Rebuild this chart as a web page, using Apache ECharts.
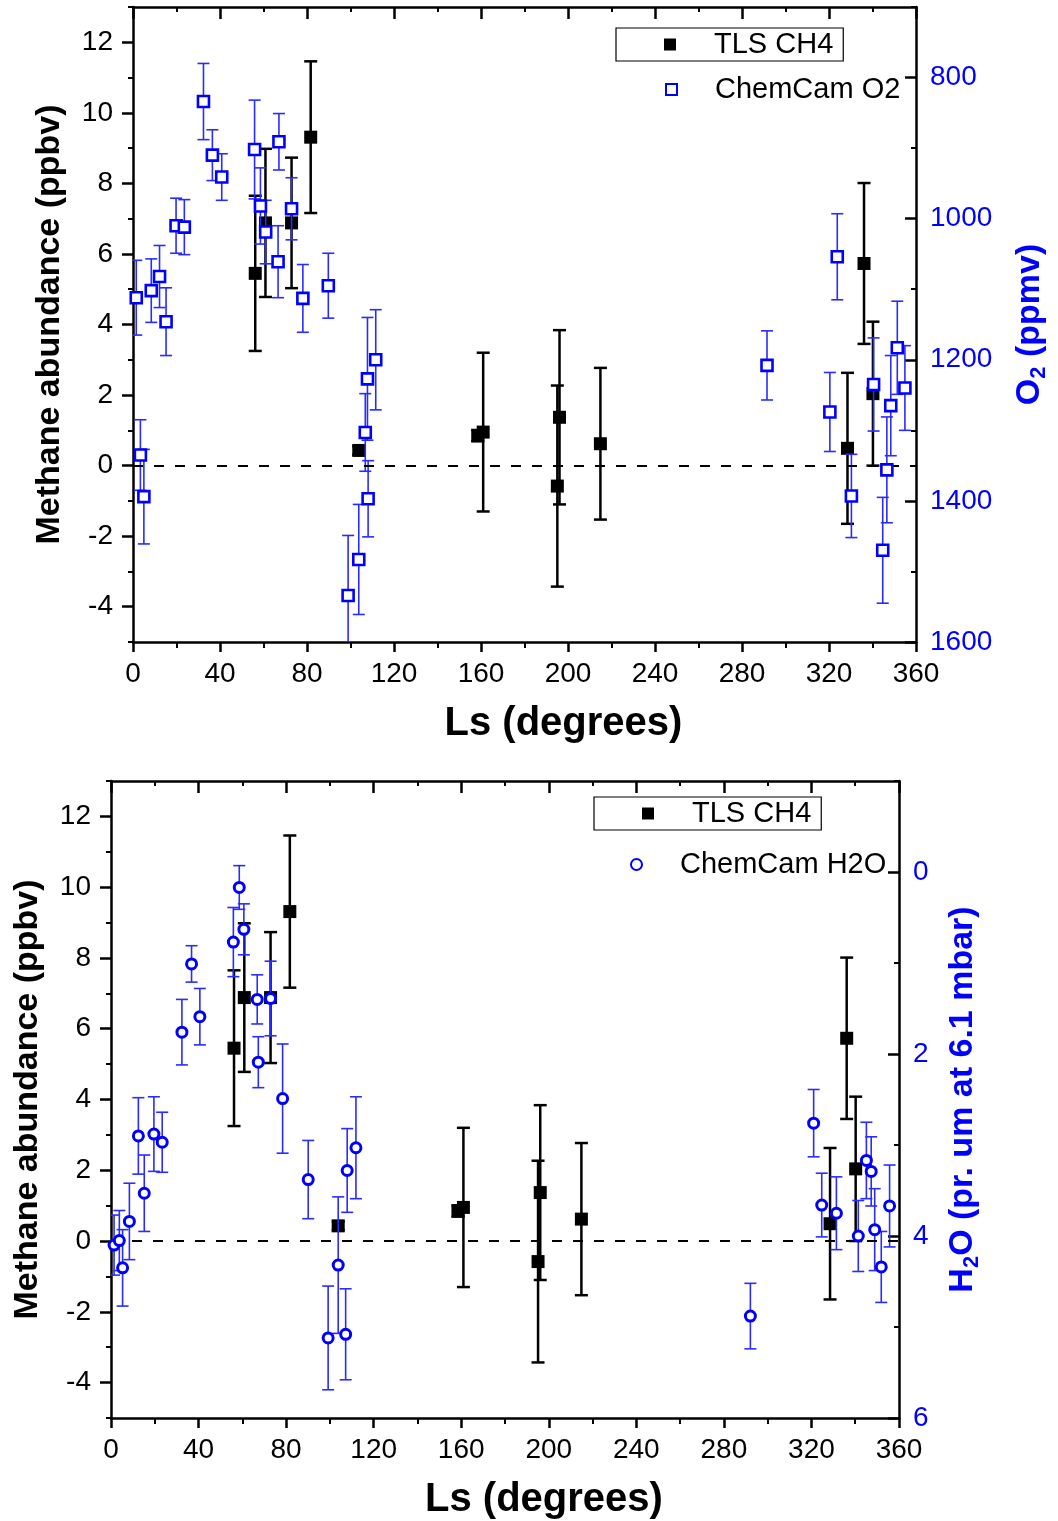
<!DOCTYPE html>
<html>
<head>
<meta charset="UTF-8">
<script type="text/javascript" src="https://cdn.jsdelivr.net/npm/echarts@6/dist/echarts.min.js"></script>
<title></title>
<style>
  html, body { margin: 0; padding: 0; background: #fff; }
</style>
</head>
<body>
<div id="main" style="width:1058px;height:1521px"></div>
<script type="text/javascript">
// TLS CH4 (both panels)
var tlsLs  = [56.2, 60.9, 72.9, 81.7, 103.8, 158.5, 161.0, 195.1, 196.1, 214.9, 328.5, 336.1, 340.2];
var tlsVal = [5.45, 6.88, 6.88, 9.31, 0.43, 0.85, 0.95, -0.58, 1.37, 0.62, 0.49, 5.73, 2.04];
var tlsErr = [2.2, 2.1, 1.85, 2.15, 0.12, 0.16, 2.25, 2.85, 2.47, 2.15, 2.14, 2.28, 2.04];

// ChemCam O2 (ppmv), top panel
var o2Ls  = [1.5, 3.4, 5.0, 8.4, 12.2, 15.2, 19.8, 23.6, 32.4, 36.5, 40.8, 55.9, 58.6, 61.0, 66.7, 67.1, 72.9, 78.1, 89.8,
             98.9, 103.8, 106.8, 107.8, 108.1, 111.6, 291.5, 320.4, 323.8, 330.3, 340.5, 344.7, 346.6, 348.4, 351.4, 354.9];
var o2Val = [1112, 1335, 1394, 1102, 1082, 1146, 1010, 1012, 834, 910, 941, 902, 982, 1019, 1061, 891, 986, 1113, 1095,
             1534, 1483, 1303, 1227, 1397, 1200, 1208, 1274, 1054, 1393, 1235, 1470, 1356, 1265, 1183, 1240];
var o2Err = [53, 50, 67, 45, 44, 48, 39, 39, 54, 36, 33, 70, 54, 45, 51, 40, 44, 48, 46,
             85, 78, 55, 87, 54, 71, 49, 56, 61, 59, 66, 75, 75, 71, 66, 60];

// ChemCam H2O (pr. um at 6.1 mbar), bottom panel
var h2oLs  = [1.4, 3.8, 5.3, 8.4, 12.5, 15.2, 19.6, 23.4, 32.4, 36.8, 40.6, 55.9, 58.6, 60.7, 66.8, 67.3, 72.9, 78.4,
              90.1, 99.2, 103.8, 107.2, 107.9, 111.9, 292.1, 321.0, 324.7, 331.4, 341.4, 345.1, 347.3, 348.9, 351.9, 355.7];
var h2oVal = [4.10, 4.05, 4.35, 3.84, 2.90, 3.53, 2.88, 2.97, 1.76, 1.01, 1.59, 0.77, 0.17, 0.63, 1.40, 2.09, 1.39, 2.49,
              3.38, 5.12, 4.32, 5.08, 3.28, 3.03, 4.88, 2.76, 3.66, 3.75, 4.00, 3.17, 3.29, 3.93, 4.34, 3.67];
var h2oErr = [0.33, 0.33, 0.42, 0.42, 0.42, 0.42, 0.41, 0.33, 0.36, 0.20, 0.31, 0.38, 0.24, 0.28, 0.27, 0.28, 0.41, 0.60,
              0.43, 0.57, 0.75, 0.50, 0.46, 0.56, 0.36, 0.37, 0.35, 0.40, 0.39, 0.42, 0.38, 0.45, 0.39, 0.45];

// tick values
var ch4Major   = [-4, -2, 0, 2, 4, 6, 8, 10, 12];
var ch4Minor   = [-5, -3, -1, 1, 3, 5, 7, 9, 11, 13];
var o2Major    = [800, 1000, 1200, 1400, 1600];
var o2Minor    = [700, 900, 1100, 1300, 1500];
var h2oMajor   = [0, 2, 4, 6];
var h2oMinor   = [-1, 1, 3, 5];

var FONT = 'Liberation Sans, Arial, sans-serif';
var BLUE = '#0000ff';

function pts(xs, ys) {
    return xs.map(function (x, i) { return [x, ys[i]]; });
}
function bars(xs, ys, es) {
    return xs.map(function (x, i) { return [x, ys[i] - es[i], ys[i] + es[i]]; });
}
function plain(v) { return String(v); }

function errRender(capW, color, lw) {
    return function (params, api) {
        var x = api.value(0);
        var lo = api.coord([x, api.value(1)]);
        var hi = api.coord([x, api.value(2)]);
        var h = capW / 2;
        var st = { stroke: color, lineWidth: lw };
        return {
            type: 'group',
            children: [
                { type: 'line', shape: { x1: lo[0], y1: lo[1], x2: hi[0], y2: hi[1] }, style: st },
                { type: 'line', shape: { x1: lo[0] - h, y1: lo[1], x2: lo[0] + h, y2: lo[1] }, style: st },
                { type: 'line', shape: { x1: hi[0] - h, y1: hi[1], x2: hi[0] + h, y2: hi[1] }, style: st }
            ]
        };
    };
}

var grids = [
    { left: 133, top: 7, width: 787, height: 635 },
    { left: 111, top: 781, width: 788, height: 638 }
];

function xAxes(g) {
    return [{
        type: 'value', gridIndex: g, min: 0, max: 360, interval: 40,
        name: 'Ls (degrees)', nameLocation: 'middle', nameGap: 62,
        nameTextStyle: { fontFamily: FONT, fontSize: 40, fontWeight: 'bold', color: '#000', padding: [0, 0, 0, 78] },
        axisLine: { onZero: false, lineStyle: { color: '#000', width: 2.5 } },
        axisTick: { length: 10, lineStyle: { width: 2.5 } },
        minorTick: { show: true, splitNumber: 2, length: 6, lineStyle: { color: '#000', width: 2 } },
        axisLabel: { fontFamily: FONT, fontSize: 28, color: '#000', margin: 18 },
        splitLine: { show: false }
    }, {
        type: 'value', gridIndex: g, position: 'top', min: 0, max: 360, interval: 40,
        axisLine: { onZero: false, lineStyle: { color: '#000', width: 2.5 } },
        axisTick: { inside: true, length: 12, lineStyle: { width: 2.5 } },
        minorTick: { show: true, splitNumber: 2, length: 5, lineStyle: { color: '#000', width: 2 } },
        axisLabel: { show: false },
        splitLine: { show: false }
    }];
}

function yAxes(g, rName, rMin, rMax, rMajor, rMinor, rGap) {
    return [{
        type: 'value', gridIndex: g, position: 'left', min: -5, max: 13,
        name: 'Methane abundance (ppbv)', nameLocation: 'middle', nameRotate: 90, nameGap: 66,
        nameTextStyle: { fontFamily: FONT, fontSize: 34, fontWeight: 'bold', color: '#000' },
        axisLine: { show: true, onZero: false, lineStyle: { color: '#000', width: 2.5 } },
        axisTick: { show: true, length: 11, customValues: ch4Major, lineStyle: { width: 2.5 } },
        axisLabel: { fontFamily: FONT, fontSize: 28, color: '#000', margin: 20, customValues: ch4Major },
        splitLine: { show: false }
    }, {
        type: 'value', gridIndex: g, position: 'left', min: -5, max: 13,
        axisLine: { show: false, onZero: false },
        axisTick: { show: true, length: 5, customValues: ch4Minor, lineStyle: { color: '#000', width: 2 } },
        axisLabel: { show: false },
        splitLine: { show: false }
    }, {
        type: 'value', gridIndex: g, position: 'right', min: rMin, max: rMax, inverse: true,
        name: rName, nameLocation: 'middle', nameRotate: 90, nameGap: rGap,
        nameTextStyle: {
            fontFamily: FONT, fontSize: 34, fontWeight: 'bold', color: BLUE,
            rich: {
                n: { fontFamily: FONT, fontSize: 34, fontWeight: 'bold', color: BLUE, lineHeight: 40, verticalAlign: 'middle' },
                s: { fontFamily: FONT, fontSize: 22, fontWeight: 'bold', color: BLUE, lineHeight: 40, verticalAlign: 'bottom' }
            }
        },
        axisLine: { show: true, onZero: false, lineStyle: { color: '#000', width: 2.5 } },
        axisTick: { show: true, inside: true, length: 11, customValues: rMajor, lineStyle: { width: 2.5 } },
        axisLabel: { fontFamily: FONT, fontSize: 28, color: BLUE, margin: 14, customValues: rMajor, formatter: plain },
        splitLine: { show: false }
    }, {
        type: 'value', gridIndex: g, position: 'right', min: rMin, max: rMax, inverse: true,
        axisLine: { show: false, onZero: false },
        axisTick: { show: true, inside: true, length: 5, customValues: rMinor, lineStyle: { color: '#000', width: 2 } },
        axisLabel: { show: false },
        splitLine: { show: false }
    }];
}

var zeroLine = {
    silent: true, symbol: 'none', label: { show: false },
    lineStyle: { color: '#000', type: [10, 11], width: 2 },
    data: [{ yAxis: 0 }]
};

function legendBox(name, left, top, icon) {
    return {
        data: [name], left: left, top: top, orient: 'vertical',
        icon: icon, itemWidth: 12, itemHeight: 12,
        borderColor: '#000', borderWidth: 1.2, borderRadius: 0,
        padding: [2, 10, 2, 48],
        selectedMode: false,
        formatter: function (n) { return '{t|' + n + '}'; },
        textStyle: { rich: { t: { fontFamily: FONT, fontSize: 29, color: '#000', lineHeight: 31, padding: [0, 0, 0, 33] } } }
    };
}
function legendPlain(name, left, top, icon) {
    return {
        data: [name], left: left, top: top, orient: 'vertical',
        icon: icon, itemWidth: 11, itemHeight: 11,
        padding: 0, selectedMode: false,
        formatter: function (n) { return '{t|' + n + '}'; },
        textStyle: { rich: { t: { fontFamily: FONT, fontSize: 29, color: '#000', lineHeight: 31, padding: [0, 0, 0, 33] } } }
    };
}

var chart = echarts.init(document.getElementById('main'), null, { renderer: 'canvas' });

var option = {
    animation: false,
    backgroundColor: '#fff',
    textStyle: { fontFamily: FONT },
    grid: grids,
    xAxis: xAxes(0).concat(xAxes(1)),
    yAxis: yAxes(0, '{n|O}{s|2}{n| (ppmv)}', 700, 1600, o2Major, o2Minor, 94)
        .concat(yAxes(1, '{n|H}{s|2}{n|O (pr. um at 6.1 mbar)}', -1, 6, h2oMajor, h2oMinor, 44)),
    legend: [
        legendBox('TLS CH4', 616, 28, 'rect'),
        legendPlain('ChemCam O2', 665, 75, 'rect'),
        legendBox('TLS CH4', 594, 797, 'rect'),
        legendPlain('ChemCam H2O', 630, 850, 'circle')
    ],
    series: [
        // top panel
        {
            type: 'custom', name: 'TLS CH4 err', xAxisIndex: 0, yAxisIndex: 0, clip: true,
            renderItem: errRender(13, '#000', 2.5), data: bars(tlsLs, tlsVal, tlsErr), z: 2
        },
        {
            type: 'scatter', name: 'TLS CH4', xAxisIndex: 0, yAxisIndex: 0, symbol: 'rect', symbolSize: 13,
            itemStyle: { color: '#000', opacity: 1 }, data: pts(tlsLs, tlsVal), markLine: zeroLine, z: 3
        },
        {
            type: 'custom', name: 'O2 err', xAxisIndex: 0, yAxisIndex: 2, clip: true,
            renderItem: errRender(12, '#2b2bff', 1.6), data: bars(o2Ls, o2Val, o2Err), z: 4
        },
        {
            type: 'scatter', name: 'ChemCam O2', xAxisIndex: 0, yAxisIndex: 2, symbol: 'rect', symbolSize: 11,
            itemStyle: { color: '#fff', borderColor: BLUE, borderWidth: 2.6, opacity: 1 }, data: pts(o2Ls, o2Val), z: 5
        },
        // bottom panel
        {
            type: 'custom', name: 'TLS CH4 err b', xAxisIndex: 2, yAxisIndex: 4, clip: true,
            renderItem: errRender(13, '#000', 2.5), data: bars(tlsLs, tlsVal, tlsErr), z: 2
        },
        {
            type: 'scatter', name: 'TLS CH4', xAxisIndex: 2, yAxisIndex: 4, symbol: 'rect', symbolSize: 13,
            itemStyle: { color: '#000', opacity: 1 }, data: pts(tlsLs, tlsVal), markLine: zeroLine, z: 3
        },
        {
            type: 'custom', name: 'H2O err', xAxisIndex: 2, yAxisIndex: 6, clip: true,
            renderItem: errRender(12, '#2b2bff', 1.6), data: bars(h2oLs, h2oVal, h2oErr), z: 4
        },
        {
            type: 'scatter', name: 'ChemCam H2O', xAxisIndex: 2, yAxisIndex: 6, symbol: 'circle', symbolSize: 10,
            itemStyle: { color: '#fff', borderColor: BLUE, borderWidth: 3, opacity: 1 }, data: pts(h2oLs, h2oVal), z: 5
        }
    ]
};

chart.setOption(option);
</script>
</body>
</html>
